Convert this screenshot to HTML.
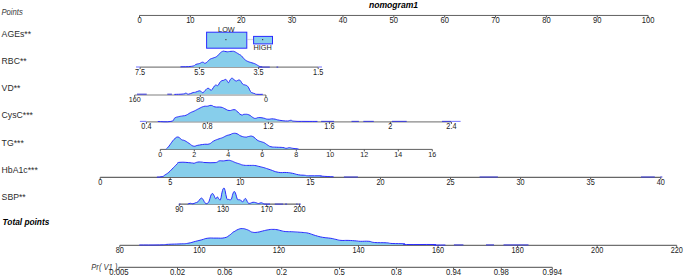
<!DOCTYPE html>
<html><head><meta charset="utf-8"><style>
html,body{margin:0;padding:0;background:#fff;}
svg{display:block;font-family:"Liberation Sans",sans-serif;}
</style></head><body>
<svg width="685" height="276" viewBox="0 0 685 276">
<rect width="685" height="276" fill="#fff"/>
<text transform="translate(1.40,15.10) scale(1.0,1.1)" font-size="7.7" text-anchor="start" font-style="italic" fill="#3a3a3a">Points</text>
<text x="393.50" y="7.70" font-size="8.6" text-anchor="middle" font-style="italic" font-weight="bold" fill="#000">nomogram1</text>
<text transform="translate(1.60,36.60) scale(1.0,1.09)" font-size="8.7" text-anchor="start" fill="#2c2c2c">AGEs**</text>
<text transform="translate(1.60,63.80) scale(1.0,1.09)" font-size="8.7" text-anchor="start" fill="#2c2c2c">RBC**</text>
<text transform="translate(1.60,90.80) scale(1.0,1.09)" font-size="8.7" text-anchor="start" fill="#2c2c2c">VD**</text>
<text transform="translate(1.60,117.90) scale(1.0,1.09)" font-size="8.7" text-anchor="start" fill="#2c2c2c">CysC***</text>
<text transform="translate(1.60,145.80) scale(1.0,1.09)" font-size="8.7" text-anchor="start" fill="#2c2c2c">TG***</text>
<text transform="translate(1.60,173.00) scale(1.0,1.09)" font-size="8.7" text-anchor="start" fill="#2c2c2c">HbA1c***</text>
<text transform="translate(1.60,200.40) scale(1.0,1.09)" font-size="8.7" text-anchor="start" fill="#2c2c2c">SBP**</text>
<text x="2.60" y="225.20" font-size="8.3" text-anchor="start" font-style="italic" font-weight="bold" fill="#000">Total points</text>
<text transform="translate(91.30,269.60) scale(1.0,1.08)" font-size="7.6" text-anchor="start" font-style="italic" fill="#3a3a3a">Pr( V1 )</text>
<line x1="139.50" y1="15.45" x2="648.10" y2="15.45" stroke="#606060" stroke-width="1.0"/>
<line x1="139.50" y1="15.45" x2="139.50" y2="17.45" stroke="#555" stroke-width="1"/>
<text transform="translate(139.50,22.50) scale(1.0,1.08)" font-size="7.6" text-anchor="middle" fill="#222">0</text>
<line x1="190.36" y1="15.45" x2="190.36" y2="17.45" stroke="#555" stroke-width="1"/>
<text transform="translate(190.36,22.50) scale(1.0,1.08)" font-size="7.6" text-anchor="middle" fill="#222">10</text>
<line x1="241.22" y1="15.45" x2="241.22" y2="17.45" stroke="#555" stroke-width="1"/>
<text transform="translate(241.22,22.50) scale(1.0,1.08)" font-size="7.6" text-anchor="middle" fill="#222">20</text>
<line x1="292.08" y1="15.45" x2="292.08" y2="17.45" stroke="#555" stroke-width="1"/>
<text transform="translate(292.08,22.50) scale(1.0,1.08)" font-size="7.6" text-anchor="middle" fill="#222">30</text>
<line x1="342.94" y1="15.45" x2="342.94" y2="17.45" stroke="#555" stroke-width="1"/>
<text transform="translate(342.94,22.50) scale(1.0,1.08)" font-size="7.6" text-anchor="middle" fill="#222">40</text>
<line x1="393.80" y1="15.45" x2="393.80" y2="17.45" stroke="#555" stroke-width="1"/>
<text transform="translate(393.80,22.50) scale(1.0,1.08)" font-size="7.6" text-anchor="middle" fill="#222">50</text>
<line x1="444.66" y1="15.45" x2="444.66" y2="17.45" stroke="#555" stroke-width="1"/>
<text transform="translate(444.66,22.50) scale(1.0,1.08)" font-size="7.6" text-anchor="middle" fill="#222">60</text>
<line x1="495.52" y1="15.45" x2="495.52" y2="17.45" stroke="#555" stroke-width="1"/>
<text transform="translate(495.52,22.50) scale(1.0,1.08)" font-size="7.6" text-anchor="middle" fill="#222">70</text>
<line x1="546.38" y1="15.45" x2="546.38" y2="17.45" stroke="#555" stroke-width="1"/>
<text transform="translate(546.38,22.50) scale(1.0,1.08)" font-size="7.6" text-anchor="middle" fill="#222">80</text>
<line x1="597.24" y1="15.45" x2="597.24" y2="17.45" stroke="#555" stroke-width="1"/>
<text transform="translate(597.24,22.50) scale(1.0,1.08)" font-size="7.6" text-anchor="middle" fill="#222">90</text>
<line x1="648.10" y1="15.45" x2="648.10" y2="17.45" stroke="#555" stroke-width="1"/>
<text transform="translate(648.10,22.50) scale(1.0,1.08)" font-size="7.6" text-anchor="middle" fill="#222">100</text>
<line x1="247.5" y1="39.5" x2="253.5" y2="39.5" stroke="#d8d8d8" stroke-width="1.2"/>
<rect x="206.6" y="32.2" width="40.2" height="16.0" fill="#87CEEB" stroke="#2a2aff" stroke-width="1"/>
<rect x="253.6" y="36.4" width="18.9" height="7.5" fill="#87CEEB" stroke="#2a2aff" stroke-width="1"/>
<rect x="225.3" y="39" width="1.2" height="1.2" fill="#444"/>
<rect x="262" y="39" width="1.2" height="1.2" fill="#444"/>
<text x="226.40" y="31.50" font-size="7.3" text-anchor="middle" fill="#222">LOW</text>
<text x="262.60" y="50.20" font-size="7.3" text-anchor="middle" fill="#222">HIGH</text>
<line x1="140.10" y1="67.10" x2="318.20" y2="67.10" stroke="#808080" stroke-width="1.4"/>
<line x1="140.10" y1="67.10" x2="140.10" y2="69.10" stroke="#555" stroke-width="1"/>
<text transform="translate(140.10,75.00) scale(1.0,1.12)" font-size="7.3" text-anchor="middle" fill="#222">7.5</text>
<line x1="199.40" y1="67.10" x2="199.40" y2="69.10" stroke="#555" stroke-width="1"/>
<text transform="translate(199.40,75.00) scale(1.0,1.12)" font-size="7.3" text-anchor="middle" fill="#222">5.5</text>
<line x1="258.60" y1="67.10" x2="258.60" y2="69.10" stroke="#555" stroke-width="1"/>
<text transform="translate(258.60,75.00) scale(1.0,1.12)" font-size="7.3" text-anchor="middle" fill="#222">3.5</text>
<line x1="318.20" y1="67.10" x2="318.20" y2="69.10" stroke="#555" stroke-width="1"/>
<text transform="translate(318.20,75.00) scale(1.0,1.12)" font-size="7.3" text-anchor="middle" fill="#222">1.5</text>
<path d="M180.70,67.10 L180.70,66.80 C183.61,66.67 187.52,66.94 191.60,66.30 C195.68,65.66 193.89,65.15 196.00,64.40 C198.11,63.65 197.74,64.09 199.50,63.50 C201.26,62.91 200.97,62.31 202.60,62.20 C204.23,62.09 203.71,63.82 205.60,63.10 C207.49,62.38 207.67,60.86 209.70,59.50 C211.73,58.14 211.33,58.80 213.20,58.00 C215.07,57.20 214.99,57.67 216.70,56.50 C218.41,55.33 218.05,54.96 219.60,53.60 C221.15,52.24 221.09,51.99 222.50,51.40 C223.91,50.81 223.65,51.29 224.90,51.40 C226.15,51.51 225.97,51.77 227.20,51.80 C228.43,51.83 228.11,51.63 229.50,51.50 C230.89,51.37 231.15,51.30 232.40,51.30 C233.65,51.30 233.11,51.13 234.20,51.50 C235.29,51.87 235.25,51.98 236.50,52.70 C237.75,53.42 237.65,53.43 238.90,54.20 C240.15,54.97 239.97,54.51 241.20,55.60 C242.43,56.69 242.62,57.31 243.50,58.30 C244.38,59.29 243.43,58.50 244.50,59.30 C245.57,60.10 245.53,60.37 247.50,61.30 C249.47,62.23 249.79,62.08 251.90,62.80 C254.01,63.52 253.43,63.07 255.40,64.00 C257.37,64.93 257.54,65.55 259.30,66.30 C261.06,67.05 261.28,66.67 262.00,66.80 L262.00,67.10 Z" fill="#87CEEB" stroke="none"/>
<path d="M180.70,67.10 L180.70,66.80 C183.61,66.67 187.52,66.94 191.60,66.30 C195.68,65.66 193.89,65.15 196.00,64.40 C198.11,63.65 197.74,64.09 199.50,63.50 C201.26,62.91 200.97,62.31 202.60,62.20 C204.23,62.09 203.71,63.82 205.60,63.10 C207.49,62.38 207.67,60.86 209.70,59.50 C211.73,58.14 211.33,58.80 213.20,58.00 C215.07,57.20 214.99,57.67 216.70,56.50 C218.41,55.33 218.05,54.96 219.60,53.60 C221.15,52.24 221.09,51.99 222.50,51.40 C223.91,50.81 223.65,51.29 224.90,51.40 C226.15,51.51 225.97,51.77 227.20,51.80 C228.43,51.83 228.11,51.63 229.50,51.50 C230.89,51.37 231.15,51.30 232.40,51.30 C233.65,51.30 233.11,51.13 234.20,51.50 C235.29,51.87 235.25,51.98 236.50,52.70 C237.75,53.42 237.65,53.43 238.90,54.20 C240.15,54.97 239.97,54.51 241.20,55.60 C242.43,56.69 242.62,57.31 243.50,58.30 C244.38,59.29 243.43,58.50 244.50,59.30 C245.57,60.10 245.53,60.37 247.50,61.30 C249.47,62.23 249.79,62.08 251.90,62.80 C254.01,63.52 253.43,63.07 255.40,64.00 C257.37,64.93 257.54,65.55 259.30,66.30 C261.06,67.05 261.28,66.67 262.00,66.80 L262.00,67.10" fill="none" stroke="#2a2aff" stroke-width="1" stroke-linejoin="round"/>
<line x1="259.00" y1="67.10" x2="269.80" y2="67.10" stroke="#4040d8" stroke-width="1.1"/>
<line x1="276.50" y1="67.10" x2="278.20" y2="67.10" stroke="#4040d8" stroke-width="1.1"/>
<line x1="136.00" y1="67.00" x2="140.10" y2="67.00" stroke="#7f7fff" stroke-width="1.1"/>
<line x1="318.20" y1="67.00" x2="322.00" y2="67.00" stroke="#7f7fff" stroke-width="1.1"/>
<line x1="134.70" y1="95.00" x2="265.90" y2="95.00" stroke="#808080" stroke-width="1.2"/>
<line x1="134.70" y1="95.00" x2="134.70" y2="97.00" stroke="#555" stroke-width="1"/>
<text transform="translate(134.70,102.00) scale(1.0,1.12)" font-size="7.2" text-anchor="middle" fill="#222">160</text>
<line x1="200.30" y1="95.00" x2="200.30" y2="97.00" stroke="#555" stroke-width="1"/>
<text transform="translate(200.30,102.00) scale(1.0,1.12)" font-size="7.2" text-anchor="middle" fill="#222">80</text>
<line x1="265.90" y1="95.00" x2="265.90" y2="97.00" stroke="#555" stroke-width="1"/>
<text transform="translate(265.90,102.00) scale(1.0,1.12)" font-size="7.2" text-anchor="middle" fill="#222">0</text>
<line x1="137.00" y1="94.20" x2="146.70" y2="94.20" stroke="#4040d8" stroke-width="1.1"/>
<line x1="167.30" y1="94.20" x2="171.90" y2="94.20" stroke="#4040d8" stroke-width="1.1"/>
<path d="M174.40,94.30 L174.40,94.40 C176.77,94.29 180.23,94.35 183.30,94.00 C186.37,93.65 184.51,93.05 185.90,93.10 C187.29,93.15 186.63,94.33 188.50,94.20 C190.37,94.07 191.03,93.13 192.90,92.60 C194.77,92.07 193.87,92.65 195.50,92.20 C197.13,91.75 197.59,91.14 199.00,90.90 C200.41,90.66 199.73,90.85 200.80,91.30 C201.87,91.75 201.83,92.84 203.00,92.60 C204.17,92.36 203.84,91.55 205.20,90.40 C206.56,89.25 206.63,88.41 208.10,88.30 C209.57,88.19 209.66,89.65 210.70,90.00 C211.74,90.35 210.96,90.72 212.00,89.60 C213.04,88.48 213.43,86.97 214.60,85.80 C215.77,84.63 215.47,85.31 216.40,85.20 C217.33,85.09 217.17,86.17 218.10,85.40 C219.03,84.63 218.83,83.58 219.90,82.30 C220.97,81.02 221.06,81.13 222.10,80.60 C223.14,80.07 222.87,80.62 223.80,80.30 C224.73,79.98 224.77,79.32 225.60,79.40 C226.43,79.48 226.13,79.75 226.90,80.60 C227.67,81.45 227.67,82.73 228.50,82.60 C229.33,82.47 229.15,81.27 230.00,80.10 C230.85,78.93 230.90,78.55 231.70,78.20 C232.50,77.85 232.17,78.24 233.00,78.80 C233.83,79.36 233.87,79.71 234.80,80.30 C235.73,80.89 235.70,81.00 236.50,81.00 C237.30,81.00 236.97,80.54 237.80,80.30 C238.63,80.06 238.77,79.81 239.60,80.10 C240.43,80.39 240.07,80.33 240.90,81.40 C241.73,82.47 241.66,83.17 242.70,84.10 C243.74,85.03 243.65,84.45 244.80,84.90 C245.95,85.35 245.93,84.97 247.00,85.80 C248.07,86.63 247.87,86.48 248.80,88.00 C249.73,89.52 249.57,90.22 250.50,91.50 C251.43,92.78 251.13,92.21 252.30,92.80 C253.47,93.39 253.73,93.30 254.90,93.70 C256.07,94.10 254.59,94.14 256.70,94.30 C258.81,94.46 261.17,94.30 262.80,94.30 L262.80,94.30 Z" fill="#87CEEB" stroke="none"/>
<path d="M174.40,94.30 L174.40,94.40 C176.77,94.29 180.23,94.35 183.30,94.00 C186.37,93.65 184.51,93.05 185.90,93.10 C187.29,93.15 186.63,94.33 188.50,94.20 C190.37,94.07 191.03,93.13 192.90,92.60 C194.77,92.07 193.87,92.65 195.50,92.20 C197.13,91.75 197.59,91.14 199.00,90.90 C200.41,90.66 199.73,90.85 200.80,91.30 C201.87,91.75 201.83,92.84 203.00,92.60 C204.17,92.36 203.84,91.55 205.20,90.40 C206.56,89.25 206.63,88.41 208.10,88.30 C209.57,88.19 209.66,89.65 210.70,90.00 C211.74,90.35 210.96,90.72 212.00,89.60 C213.04,88.48 213.43,86.97 214.60,85.80 C215.77,84.63 215.47,85.31 216.40,85.20 C217.33,85.09 217.17,86.17 218.10,85.40 C219.03,84.63 218.83,83.58 219.90,82.30 C220.97,81.02 221.06,81.13 222.10,80.60 C223.14,80.07 222.87,80.62 223.80,80.30 C224.73,79.98 224.77,79.32 225.60,79.40 C226.43,79.48 226.13,79.75 226.90,80.60 C227.67,81.45 227.67,82.73 228.50,82.60 C229.33,82.47 229.15,81.27 230.00,80.10 C230.85,78.93 230.90,78.55 231.70,78.20 C232.50,77.85 232.17,78.24 233.00,78.80 C233.83,79.36 233.87,79.71 234.80,80.30 C235.73,80.89 235.70,81.00 236.50,81.00 C237.30,81.00 236.97,80.54 237.80,80.30 C238.63,80.06 238.77,79.81 239.60,80.10 C240.43,80.39 240.07,80.33 240.90,81.40 C241.73,82.47 241.66,83.17 242.70,84.10 C243.74,85.03 243.65,84.45 244.80,84.90 C245.95,85.35 245.93,84.97 247.00,85.80 C248.07,86.63 247.87,86.48 248.80,88.00 C249.73,89.52 249.57,90.22 250.50,91.50 C251.43,92.78 251.13,92.21 252.30,92.80 C253.47,93.39 253.73,93.30 254.90,93.70 C256.07,94.10 254.59,94.14 256.70,94.30 C258.81,94.46 261.17,94.30 262.80,94.30 L262.80,94.30" fill="none" stroke="#2a2aff" stroke-width="1" stroke-linejoin="round"/>
<line x1="146.40" y1="121.90" x2="451.30" y2="121.90" stroke="#888" stroke-width="1.3"/>
<line x1="146.40" y1="121.90" x2="146.40" y2="123.90" stroke="#555" stroke-width="1"/>
<text transform="translate(146.40,129.30) scale(1.0,1.12)" font-size="7.3" text-anchor="middle" fill="#222">0.4</text>
<line x1="207.40" y1="121.90" x2="207.40" y2="123.90" stroke="#555" stroke-width="1"/>
<text transform="translate(207.40,129.30) scale(1.0,1.12)" font-size="7.3" text-anchor="middle" fill="#222">0.8</text>
<line x1="268.40" y1="121.90" x2="268.40" y2="123.90" stroke="#555" stroke-width="1"/>
<text transform="translate(268.40,129.30) scale(1.0,1.12)" font-size="7.3" text-anchor="middle" fill="#222">1.2</text>
<line x1="329.40" y1="121.90" x2="329.40" y2="123.90" stroke="#555" stroke-width="1"/>
<text transform="translate(329.40,129.30) scale(1.0,1.12)" font-size="7.3" text-anchor="middle" fill="#222">1.6</text>
<line x1="390.40" y1="121.90" x2="390.40" y2="123.90" stroke="#555" stroke-width="1"/>
<text transform="translate(390.40,129.30) scale(1.0,1.12)" font-size="7.3" text-anchor="middle" fill="#222">2</text>
<line x1="451.40" y1="121.90" x2="451.40" y2="123.90" stroke="#555" stroke-width="1"/>
<text transform="translate(451.40,129.30) scale(1.0,1.12)" font-size="7.3" text-anchor="middle" fill="#222">2.4</text>
<line x1="139.90" y1="121.40" x2="146.40" y2="121.40" stroke="#7f7fff" stroke-width="1.1"/>
<path d="M157.80,121.50 L157.80,121.50 C161.29,121.47 166.39,122.31 170.90,121.40 C175.41,120.49 172.67,119.35 174.70,118.10 C176.73,116.85 176.34,117.29 178.50,116.70 C180.66,116.11 180.77,116.30 182.80,115.90 C184.83,115.50 184.07,116.05 186.10,115.20 C188.13,114.35 188.21,113.82 190.40,112.70 C192.59,111.58 192.09,112.07 194.30,111.00 C196.51,109.93 196.22,109.90 198.70,108.70 C201.18,107.50 201.28,107.17 203.60,106.50 C205.92,105.83 205.37,106.49 207.40,106.20 C209.43,105.91 209.17,105.21 211.20,105.40 C213.23,105.59 212.39,106.42 215.00,106.90 C217.61,107.38 218.39,106.72 221.00,107.20 C223.61,107.68 222.64,107.82 224.80,108.70 C226.96,109.58 226.65,110.23 229.10,110.50 C231.55,110.77 231.97,109.57 234.00,109.70 C236.03,109.83 234.81,109.64 236.70,111.00 C238.59,112.36 239.07,113.92 241.10,114.80 C243.13,115.68 242.25,114.30 244.30,114.30 C246.35,114.30 246.59,114.00 248.80,114.80 C251.01,115.60 250.87,116.34 252.60,117.30 C254.33,118.26 253.70,118.32 255.30,118.40 C256.90,118.48 256.41,117.68 258.60,117.60 C260.79,117.52 261.05,117.67 263.50,118.10 C265.95,118.53 265.19,118.99 267.80,119.20 C270.41,119.41 270.10,118.61 273.30,118.90 C276.50,119.19 276.04,119.74 279.80,120.30 C283.56,120.86 284.49,121.00 287.40,121.00 C290.31,121.00 288.81,120.25 290.70,120.30 C292.59,120.35 290.69,120.91 294.50,121.20 C298.31,121.49 298.89,121.35 305.00,121.40 C311.11,121.45 314.09,121.40 317.40,121.40 L317.40,121.50 Z" fill="#87CEEB" stroke="none"/>
<path d="M157.80,121.50 L157.80,121.50 C161.29,121.47 166.39,122.31 170.90,121.40 C175.41,120.49 172.67,119.35 174.70,118.10 C176.73,116.85 176.34,117.29 178.50,116.70 C180.66,116.11 180.77,116.30 182.80,115.90 C184.83,115.50 184.07,116.05 186.10,115.20 C188.13,114.35 188.21,113.82 190.40,112.70 C192.59,111.58 192.09,112.07 194.30,111.00 C196.51,109.93 196.22,109.90 198.70,108.70 C201.18,107.50 201.28,107.17 203.60,106.50 C205.92,105.83 205.37,106.49 207.40,106.20 C209.43,105.91 209.17,105.21 211.20,105.40 C213.23,105.59 212.39,106.42 215.00,106.90 C217.61,107.38 218.39,106.72 221.00,107.20 C223.61,107.68 222.64,107.82 224.80,108.70 C226.96,109.58 226.65,110.23 229.10,110.50 C231.55,110.77 231.97,109.57 234.00,109.70 C236.03,109.83 234.81,109.64 236.70,111.00 C238.59,112.36 239.07,113.92 241.10,114.80 C243.13,115.68 242.25,114.30 244.30,114.30 C246.35,114.30 246.59,114.00 248.80,114.80 C251.01,115.60 250.87,116.34 252.60,117.30 C254.33,118.26 253.70,118.32 255.30,118.40 C256.90,118.48 256.41,117.68 258.60,117.60 C260.79,117.52 261.05,117.67 263.50,118.10 C265.95,118.53 265.19,118.99 267.80,119.20 C270.41,119.41 270.10,118.61 273.30,118.90 C276.50,119.19 276.04,119.74 279.80,120.30 C283.56,120.86 284.49,121.00 287.40,121.00 C290.31,121.00 288.81,120.25 290.70,120.30 C292.59,120.35 290.69,120.91 294.50,121.20 C298.31,121.49 298.89,121.35 305.00,121.40 C311.11,121.45 314.09,121.40 317.40,121.40 L317.40,121.50" fill="none" stroke="#2a2aff" stroke-width="1" stroke-linejoin="round"/>
<line x1="321.10" y1="121.40" x2="334.10" y2="121.40" stroke="#4040d8" stroke-width="1.1"/>
<line x1="351.50" y1="121.40" x2="358.90" y2="121.40" stroke="#4040d8" stroke-width="1.1"/>
<line x1="363.30" y1="121.40" x2="373.80" y2="121.40" stroke="#4040d8" stroke-width="1.1"/>
<line x1="391.80" y1="121.40" x2="406.70" y2="121.40" stroke="#4040d8" stroke-width="1.1"/>
<line x1="442.00" y1="121.40" x2="451.30" y2="121.40" stroke="#4040d8" stroke-width="1.1"/>
<line x1="451.30" y1="121.40" x2="460.60" y2="121.40" stroke="#7f7fff" stroke-width="1.1"/>
<line x1="160.30" y1="149.40" x2="432.30" y2="149.40" stroke="#606060" stroke-width="1.0"/>
<line x1="160.30" y1="149.40" x2="160.30" y2="151.40" stroke="#555" stroke-width="1"/>
<text transform="translate(160.30,156.70) scale(1.0,1.12)" font-size="7.1" text-anchor="middle" fill="#222">0</text>
<line x1="194.30" y1="149.40" x2="194.30" y2="151.40" stroke="#555" stroke-width="1"/>
<text transform="translate(194.30,156.70) scale(1.0,1.12)" font-size="7.1" text-anchor="middle" fill="#222">2</text>
<line x1="228.30" y1="149.40" x2="228.30" y2="151.40" stroke="#555" stroke-width="1"/>
<text transform="translate(228.30,156.70) scale(1.0,1.12)" font-size="7.1" text-anchor="middle" fill="#222">4</text>
<line x1="262.30" y1="149.40" x2="262.30" y2="151.40" stroke="#555" stroke-width="1"/>
<text transform="translate(262.30,156.70) scale(1.0,1.12)" font-size="7.1" text-anchor="middle" fill="#222">6</text>
<line x1="296.30" y1="149.40" x2="296.30" y2="151.40" stroke="#555" stroke-width="1"/>
<text transform="translate(296.30,156.70) scale(1.0,1.12)" font-size="7.1" text-anchor="middle" fill="#222">8</text>
<line x1="330.30" y1="149.40" x2="330.30" y2="151.40" stroke="#555" stroke-width="1"/>
<text transform="translate(330.30,156.70) scale(1.0,1.12)" font-size="7.1" text-anchor="middle" fill="#222">10</text>
<line x1="364.30" y1="149.40" x2="364.30" y2="151.40" stroke="#555" stroke-width="1"/>
<text transform="translate(364.30,156.70) scale(1.0,1.12)" font-size="7.1" text-anchor="middle" fill="#222">12</text>
<line x1="398.30" y1="149.40" x2="398.30" y2="151.40" stroke="#555" stroke-width="1"/>
<text transform="translate(398.30,156.70) scale(1.0,1.12)" font-size="7.1" text-anchor="middle" fill="#222">14</text>
<line x1="432.30" y1="149.40" x2="432.30" y2="151.40" stroke="#555" stroke-width="1"/>
<text transform="translate(432.30,156.70) scale(1.0,1.12)" font-size="7.1" text-anchor="middle" fill="#222">16</text>
<path d="M166.10,149.20 L166.10,149.20 C166.87,148.37 167.51,147.94 169.00,146.10 C170.49,144.26 170.10,144.33 171.70,142.30 C173.30,140.27 173.24,139.89 175.00,138.50 C176.76,137.11 176.57,136.81 178.30,137.10 C180.03,137.39 179.77,138.64 181.50,139.60 C183.23,140.56 182.77,139.69 184.80,140.70 C186.83,141.71 186.78,141.96 189.10,143.40 C191.42,144.84 191.18,145.59 193.50,146.10 C195.82,146.61 194.92,145.78 197.80,145.30 C200.68,144.82 201.23,144.67 204.30,144.30 C207.37,143.93 206.79,144.78 209.30,143.90 C211.81,143.02 211.09,142.36 213.70,141.00 C216.31,139.64 216.78,139.68 219.10,138.80 C221.42,137.92 220.37,138.55 222.40,137.70 C224.43,136.85 224.67,136.40 226.70,135.60 C228.73,134.80 228.24,135.29 230.00,134.70 C231.76,134.11 231.41,133.64 233.30,133.40 C235.19,133.16 235.07,133.11 237.10,133.80 C239.13,134.49 238.58,135.12 240.90,136.00 C243.22,136.88 243.77,136.97 245.80,137.10 C247.83,137.23 246.63,136.66 248.50,136.50 C250.37,136.34 250.48,135.54 252.80,136.50 C255.12,137.46 254.88,138.69 257.20,140.10 C259.52,141.51 259.61,141.08 261.50,141.80 C263.39,142.52 262.67,141.95 264.30,142.80 C265.93,143.65 265.84,143.96 267.60,145.00 C269.36,146.04 268.58,146.11 270.90,146.70 C273.22,147.29 273.13,146.99 276.30,147.20 C279.47,147.41 280.19,147.21 282.80,147.50 C285.41,147.79 284.37,148.25 286.10,148.30 C287.83,148.35 287.57,147.70 289.30,147.70 C291.03,147.70 290.55,148.01 292.60,148.30 C294.65,148.59 295.40,148.59 297.00,148.80 C298.60,149.01 298.17,149.02 298.60,149.10 L298.60,149.20 Z" fill="#87CEEB" stroke="none"/>
<path d="M166.10,149.20 L166.10,149.20 C166.87,148.37 167.51,147.94 169.00,146.10 C170.49,144.26 170.10,144.33 171.70,142.30 C173.30,140.27 173.24,139.89 175.00,138.50 C176.76,137.11 176.57,136.81 178.30,137.10 C180.03,137.39 179.77,138.64 181.50,139.60 C183.23,140.56 182.77,139.69 184.80,140.70 C186.83,141.71 186.78,141.96 189.10,143.40 C191.42,144.84 191.18,145.59 193.50,146.10 C195.82,146.61 194.92,145.78 197.80,145.30 C200.68,144.82 201.23,144.67 204.30,144.30 C207.37,143.93 206.79,144.78 209.30,143.90 C211.81,143.02 211.09,142.36 213.70,141.00 C216.31,139.64 216.78,139.68 219.10,138.80 C221.42,137.92 220.37,138.55 222.40,137.70 C224.43,136.85 224.67,136.40 226.70,135.60 C228.73,134.80 228.24,135.29 230.00,134.70 C231.76,134.11 231.41,133.64 233.30,133.40 C235.19,133.16 235.07,133.11 237.10,133.80 C239.13,134.49 238.58,135.12 240.90,136.00 C243.22,136.88 243.77,136.97 245.80,137.10 C247.83,137.23 246.63,136.66 248.50,136.50 C250.37,136.34 250.48,135.54 252.80,136.50 C255.12,137.46 254.88,138.69 257.20,140.10 C259.52,141.51 259.61,141.08 261.50,141.80 C263.39,142.52 262.67,141.95 264.30,142.80 C265.93,143.65 265.84,143.96 267.60,145.00 C269.36,146.04 268.58,146.11 270.90,146.70 C273.22,147.29 273.13,146.99 276.30,147.20 C279.47,147.41 280.19,147.21 282.80,147.50 C285.41,147.79 284.37,148.25 286.10,148.30 C287.83,148.35 287.57,147.70 289.30,147.70 C291.03,147.70 290.55,148.01 292.60,148.30 C294.65,148.59 295.40,148.59 297.00,148.80 C298.60,149.01 298.17,149.02 298.60,149.10 L298.60,149.20" fill="none" stroke="#2a2aff" stroke-width="1" stroke-linejoin="round"/>
<line x1="100.20" y1="177.40" x2="660.72" y2="177.40" stroke="#666" stroke-width="1.1"/>
<line x1="100.20" y1="177.40" x2="100.20" y2="179.40" stroke="#555" stroke-width="1"/>
<text transform="translate(100.20,184.50) scale(1.0,1.12)" font-size="7.3" text-anchor="middle" fill="#222">0</text>
<line x1="170.26" y1="177.40" x2="170.26" y2="179.40" stroke="#555" stroke-width="1"/>
<text transform="translate(170.26,184.50) scale(1.0,1.12)" font-size="7.3" text-anchor="middle" fill="#222">5</text>
<line x1="240.33" y1="177.40" x2="240.33" y2="179.40" stroke="#555" stroke-width="1"/>
<text transform="translate(240.33,184.50) scale(1.0,1.12)" font-size="7.3" text-anchor="middle" fill="#222">10</text>
<line x1="310.39" y1="177.40" x2="310.39" y2="179.40" stroke="#555" stroke-width="1"/>
<text transform="translate(310.39,184.50) scale(1.0,1.12)" font-size="7.3" text-anchor="middle" fill="#222">15</text>
<line x1="380.46" y1="177.40" x2="380.46" y2="179.40" stroke="#555" stroke-width="1"/>
<text transform="translate(380.46,184.50) scale(1.0,1.12)" font-size="7.3" text-anchor="middle" fill="#222">20</text>
<line x1="450.52" y1="177.40" x2="450.52" y2="179.40" stroke="#555" stroke-width="1"/>
<text transform="translate(450.52,184.50) scale(1.0,1.12)" font-size="7.3" text-anchor="middle" fill="#222">25</text>
<line x1="520.59" y1="177.40" x2="520.59" y2="179.40" stroke="#555" stroke-width="1"/>
<text transform="translate(520.59,184.50) scale(1.0,1.12)" font-size="7.3" text-anchor="middle" fill="#222">30</text>
<line x1="590.65" y1="177.40" x2="590.65" y2="179.40" stroke="#555" stroke-width="1"/>
<text transform="translate(590.65,184.50) scale(1.0,1.12)" font-size="7.3" text-anchor="middle" fill="#222">35</text>
<line x1="660.72" y1="177.40" x2="660.72" y2="179.40" stroke="#555" stroke-width="1"/>
<text transform="translate(660.72,184.50) scale(1.0,1.12)" font-size="7.3" text-anchor="middle" fill="#222">40</text>
<path d="M156.90,177.10 L156.90,177.10 C158.31,176.97 159.99,177.21 162.20,176.60 C164.41,175.99 163.44,175.95 165.20,174.80 C166.96,173.65 166.61,174.19 168.80,172.30 C170.99,170.41 171.24,169.86 173.40,167.70 C175.56,165.54 175.14,165.64 176.90,164.20 C178.66,162.76 176.08,162.65 180.00,162.30 C183.92,161.95 187.95,162.63 191.60,162.90 C195.25,163.17 192.07,163.51 193.70,163.30 C195.33,163.09 195.54,162.42 197.70,162.10 C199.86,161.78 199.85,161.99 201.80,162.10 C203.75,162.21 201.43,162.37 205.00,162.50 C208.57,162.63 211.41,163.03 215.20,162.60 C218.99,162.17 217.04,161.35 219.20,160.90 C221.36,160.45 220.85,161.06 223.30,160.90 C225.75,160.74 226.24,160.30 228.40,160.30 C230.56,160.30 229.51,160.29 231.40,160.90 C233.29,161.51 233.34,161.80 235.50,162.60 C237.66,163.40 237.34,163.21 239.50,163.90 C241.66,164.59 240.88,164.80 243.60,165.20 C246.32,165.60 246.74,165.32 249.70,165.40 C252.66,165.48 252.27,165.23 254.70,165.50 C257.13,165.77 256.61,165.89 258.80,166.40 C260.99,166.91 261.49,167.05 262.90,167.40 C264.31,167.75 262.15,167.09 264.10,167.70 C266.05,168.31 266.41,168.47 270.20,169.70 C273.99,170.93 273.98,171.55 278.30,172.30 C282.62,173.05 282.61,172.23 286.40,172.50 C290.19,172.77 289.25,172.69 292.50,173.30 C295.75,173.91 295.35,174.27 298.60,174.80 C301.85,175.33 302.01,175.03 304.70,175.30 C307.39,175.57 304.62,175.67 308.70,175.80 C312.78,175.93 316.45,175.69 320.00,175.80 C323.55,175.91 318.43,175.93 322.00,176.20 C325.57,176.47 330.36,176.64 333.40,176.80 L333.40,177.10 Z" fill="#87CEEB" stroke="none"/>
<path d="M156.90,177.10 L156.90,177.10 C158.31,176.97 159.99,177.21 162.20,176.60 C164.41,175.99 163.44,175.95 165.20,174.80 C166.96,173.65 166.61,174.19 168.80,172.30 C170.99,170.41 171.24,169.86 173.40,167.70 C175.56,165.54 175.14,165.64 176.90,164.20 C178.66,162.76 176.08,162.65 180.00,162.30 C183.92,161.95 187.95,162.63 191.60,162.90 C195.25,163.17 192.07,163.51 193.70,163.30 C195.33,163.09 195.54,162.42 197.70,162.10 C199.86,161.78 199.85,161.99 201.80,162.10 C203.75,162.21 201.43,162.37 205.00,162.50 C208.57,162.63 211.41,163.03 215.20,162.60 C218.99,162.17 217.04,161.35 219.20,160.90 C221.36,160.45 220.85,161.06 223.30,160.90 C225.75,160.74 226.24,160.30 228.40,160.30 C230.56,160.30 229.51,160.29 231.40,160.90 C233.29,161.51 233.34,161.80 235.50,162.60 C237.66,163.40 237.34,163.21 239.50,163.90 C241.66,164.59 240.88,164.80 243.60,165.20 C246.32,165.60 246.74,165.32 249.70,165.40 C252.66,165.48 252.27,165.23 254.70,165.50 C257.13,165.77 256.61,165.89 258.80,166.40 C260.99,166.91 261.49,167.05 262.90,167.40 C264.31,167.75 262.15,167.09 264.10,167.70 C266.05,168.31 266.41,168.47 270.20,169.70 C273.99,170.93 273.98,171.55 278.30,172.30 C282.62,173.05 282.61,172.23 286.40,172.50 C290.19,172.77 289.25,172.69 292.50,173.30 C295.75,173.91 295.35,174.27 298.60,174.80 C301.85,175.33 302.01,175.03 304.70,175.30 C307.39,175.57 304.62,175.67 308.70,175.80 C312.78,175.93 316.45,175.69 320.00,175.80 C323.55,175.91 318.43,175.93 322.00,176.20 C325.57,176.47 330.36,176.64 333.40,176.80 L333.40,177.10" fill="none" stroke="#2a2aff" stroke-width="1" stroke-linejoin="round"/>
<line x1="343.90" y1="177.00" x2="357.90" y2="177.00" stroke="#4040d8" stroke-width="1.1"/>
<line x1="479.60" y1="177.00" x2="497.90" y2="177.00" stroke="#4040d8" stroke-width="1.1"/>
<line x1="641.00" y1="177.00" x2="654.80" y2="177.00" stroke="#4040d8" stroke-width="1.1"/>
<line x1="660.30" y1="177.00" x2="662.30" y2="177.00" stroke="#4040d8" stroke-width="1.1"/>
<line x1="179.30" y1="204.10" x2="299.53" y2="204.10" stroke="#666" stroke-width="1.1"/>
<line x1="179.30" y1="204.10" x2="179.30" y2="206.10" stroke="#555" stroke-width="1"/>
<text transform="translate(179.30,212.00) scale(1.0,1.12)" font-size="7.3" text-anchor="middle" fill="#222">90</text>
<line x1="223.02" y1="204.10" x2="223.02" y2="206.10" stroke="#555" stroke-width="1"/>
<text transform="translate(223.02,212.00) scale(1.0,1.12)" font-size="7.3" text-anchor="middle" fill="#222">130</text>
<line x1="266.74" y1="204.10" x2="266.74" y2="206.10" stroke="#555" stroke-width="1"/>
<text transform="translate(266.74,212.00) scale(1.0,1.12)" font-size="7.3" text-anchor="middle" fill="#222">170</text>
<line x1="299.53" y1="204.10" x2="299.53" y2="206.10" stroke="#555" stroke-width="1"/>
<text transform="translate(299.53,212.00) scale(1.0,1.12)" font-size="7.3" text-anchor="middle" fill="#222">200</text>
<path d="M187.80,204.20 L187.80,204.10 C188.47,203.89 188.97,203.38 190.30,203.30 C191.63,203.22 191.44,203.93 192.80,203.80 C194.16,203.67 194.04,203.33 195.40,202.80 C196.76,202.27 196.57,202.89 197.90,201.80 C199.23,200.71 199.31,199.61 200.40,198.70 C201.49,197.79 201.17,198.00 202.00,198.40 C202.83,198.80 202.70,199.03 203.50,200.20 C204.30,201.37 204.07,201.92 205.00,202.80 C205.93,203.68 205.91,203.93 207.00,203.50 C208.09,203.07 208.14,203.15 209.10,201.20 C210.06,199.25 209.72,198.23 210.60,196.20 C211.48,194.17 211.47,193.73 212.40,193.60 C213.33,193.47 213.22,194.34 214.10,195.70 C214.98,197.06 214.82,198.35 215.70,198.70 C216.58,199.05 216.49,196.87 217.40,197.00 C218.31,197.13 218.25,198.61 219.10,199.20 C219.95,199.79 219.80,201.09 220.60,199.20 C221.40,197.31 221.30,195.01 222.10,192.10 C222.90,189.19 222.80,188.70 223.60,188.30 C224.40,187.90 224.27,187.96 225.10,190.60 C225.93,193.24 225.74,195.85 226.70,198.20 C227.66,200.55 227.50,199.13 228.70,199.40 C229.90,199.67 230.11,200.61 231.20,199.20 C232.29,197.79 231.97,196.13 232.80,194.10 C233.63,192.07 233.50,191.60 234.30,191.60 C235.10,191.60 235.00,192.07 235.80,194.10 C236.60,196.13 236.37,197.71 237.30,199.20 C238.23,200.69 238.21,199.30 239.30,199.70 C240.39,200.10 240.44,200.14 241.40,200.70 C242.36,201.26 241.97,202.33 242.90,201.80 C243.83,201.27 243.97,199.26 244.90,198.70 C245.83,198.14 245.57,198.61 246.40,199.70 C247.23,200.79 247.04,201.84 248.00,202.80 C248.96,203.76 248.67,203.43 250.00,203.30 C251.33,203.17 251.37,202.43 253.00,202.30 C254.63,202.17 254.61,202.48 256.10,202.80 C257.59,203.12 257.24,203.50 258.60,203.50 C259.96,203.50 259.84,202.72 261.20,202.80 C262.56,202.88 262.69,203.45 263.70,203.80 C264.71,204.15 263.32,204.02 265.00,204.10 C266.68,204.18 268.67,204.10 270.00,204.10 L270.00,204.20 Z" fill="#87CEEB" stroke="none"/>
<path d="M187.80,204.20 L187.80,204.10 C188.47,203.89 188.97,203.38 190.30,203.30 C191.63,203.22 191.44,203.93 192.80,203.80 C194.16,203.67 194.04,203.33 195.40,202.80 C196.76,202.27 196.57,202.89 197.90,201.80 C199.23,200.71 199.31,199.61 200.40,198.70 C201.49,197.79 201.17,198.00 202.00,198.40 C202.83,198.80 202.70,199.03 203.50,200.20 C204.30,201.37 204.07,201.92 205.00,202.80 C205.93,203.68 205.91,203.93 207.00,203.50 C208.09,203.07 208.14,203.15 209.10,201.20 C210.06,199.25 209.72,198.23 210.60,196.20 C211.48,194.17 211.47,193.73 212.40,193.60 C213.33,193.47 213.22,194.34 214.10,195.70 C214.98,197.06 214.82,198.35 215.70,198.70 C216.58,199.05 216.49,196.87 217.40,197.00 C218.31,197.13 218.25,198.61 219.10,199.20 C219.95,199.79 219.80,201.09 220.60,199.20 C221.40,197.31 221.30,195.01 222.10,192.10 C222.90,189.19 222.80,188.70 223.60,188.30 C224.40,187.90 224.27,187.96 225.10,190.60 C225.93,193.24 225.74,195.85 226.70,198.20 C227.66,200.55 227.50,199.13 228.70,199.40 C229.90,199.67 230.11,200.61 231.20,199.20 C232.29,197.79 231.97,196.13 232.80,194.10 C233.63,192.07 233.50,191.60 234.30,191.60 C235.10,191.60 235.00,192.07 235.80,194.10 C236.60,196.13 236.37,197.71 237.30,199.20 C238.23,200.69 238.21,199.30 239.30,199.70 C240.39,200.10 240.44,200.14 241.40,200.70 C242.36,201.26 241.97,202.33 242.90,201.80 C243.83,201.27 243.97,199.26 244.90,198.70 C245.83,198.14 245.57,198.61 246.40,199.70 C247.23,200.79 247.04,201.84 248.00,202.80 C248.96,203.76 248.67,203.43 250.00,203.30 C251.33,203.17 251.37,202.43 253.00,202.30 C254.63,202.17 254.61,202.48 256.10,202.80 C257.59,203.12 257.24,203.50 258.60,203.50 C259.96,203.50 259.84,202.72 261.20,202.80 C262.56,202.88 262.69,203.45 263.70,203.80 C264.71,204.15 263.32,204.02 265.00,204.10 C266.68,204.18 268.67,204.10 270.00,204.10 L270.00,204.20" fill="none" stroke="#2a2aff" stroke-width="1" stroke-linejoin="round"/>
<line x1="178.80" y1="204.10" x2="180.50" y2="204.10" stroke="#4040d8" stroke-width="1.1"/>
<line x1="274.80" y1="204.10" x2="283.10" y2="204.10" stroke="#4040d8" stroke-width="1.1"/>
<line x1="285.10" y1="204.10" x2="287.10" y2="204.10" stroke="#4040d8" stroke-width="1.1"/>
<line x1="296.30" y1="204.10" x2="297.50" y2="204.10" stroke="#4040d8" stroke-width="1.1"/>
<line x1="299.10" y1="204.10" x2="300.70" y2="204.10" stroke="#4040d8" stroke-width="1.1"/>
<line x1="119.80" y1="245.40" x2="676.72" y2="245.40" stroke="#707070" stroke-width="1.1"/>
<line x1="119.80" y1="245.40" x2="119.80" y2="247.40" stroke="#555" stroke-width="1"/>
<text transform="translate(119.80,252.70) scale(1.0,1.12)" font-size="7.3" text-anchor="middle" fill="#222">80</text>
<line x1="199.36" y1="245.40" x2="199.36" y2="247.40" stroke="#555" stroke-width="1"/>
<text transform="translate(199.36,252.70) scale(1.0,1.12)" font-size="7.3" text-anchor="middle" fill="#222">100</text>
<line x1="278.92" y1="245.40" x2="278.92" y2="247.40" stroke="#555" stroke-width="1"/>
<text transform="translate(278.92,252.70) scale(1.0,1.12)" font-size="7.3" text-anchor="middle" fill="#222">120</text>
<line x1="358.48" y1="245.40" x2="358.48" y2="247.40" stroke="#555" stroke-width="1"/>
<text transform="translate(358.48,252.70) scale(1.0,1.12)" font-size="7.3" text-anchor="middle" fill="#222">140</text>
<line x1="438.04" y1="245.40" x2="438.04" y2="247.40" stroke="#555" stroke-width="1"/>
<text transform="translate(438.04,252.70) scale(1.0,1.12)" font-size="7.3" text-anchor="middle" fill="#222">160</text>
<line x1="517.60" y1="245.40" x2="517.60" y2="247.40" stroke="#555" stroke-width="1"/>
<text transform="translate(517.60,252.70) scale(1.0,1.12)" font-size="7.3" text-anchor="middle" fill="#222">180</text>
<line x1="597.16" y1="245.40" x2="597.16" y2="247.40" stroke="#555" stroke-width="1"/>
<text transform="translate(597.16,252.70) scale(1.0,1.12)" font-size="7.3" text-anchor="middle" fill="#222">200</text>
<line x1="676.72" y1="245.40" x2="676.72" y2="247.40" stroke="#555" stroke-width="1"/>
<text transform="translate(676.72,252.70) scale(1.0,1.12)" font-size="7.3" text-anchor="middle" fill="#222">220</text>
<path d="M139.30,245.00 L139.30,245.00 C144.74,244.97 151.91,245.09 159.70,244.90 C167.49,244.71 163.09,244.57 168.50,244.30 C173.91,244.03 174.85,244.17 180.00,243.90 C185.15,243.63 183.61,243.99 187.80,243.30 C191.99,242.61 191.97,242.23 195.70,241.30 C199.43,240.37 198.55,240.63 201.80,239.80 C205.05,238.97 204.09,238.65 207.90,238.20 C211.71,237.75 211.73,238.21 216.10,238.10 C220.47,237.99 220.75,238.55 224.30,237.80 C227.85,237.05 227.08,236.79 229.40,235.30 C231.72,233.81 231.75,233.16 233.00,232.20 C234.25,231.24 232.71,232.45 234.10,231.70 C235.49,230.95 236.01,230.23 238.20,229.40 C240.39,228.57 240.14,228.60 242.30,228.60 C244.46,228.60 244.41,228.84 246.30,229.40 C248.19,229.96 247.75,229.95 249.40,230.70 C251.05,231.45 250.31,231.80 252.50,232.20 C254.69,232.60 254.88,232.52 257.60,232.20 C260.32,231.88 259.71,231.67 262.70,231.00 C265.69,230.33 266.08,230.13 268.80,229.70 C271.52,229.27 270.71,229.40 272.90,229.40 C275.09,229.40 274.81,229.35 277.00,229.70 C279.19,230.05 278.91,230.22 281.10,230.70 C283.29,231.18 282.48,231.23 285.20,231.50 C287.92,231.77 288.58,231.59 291.30,231.70 C294.02,231.81 293.32,231.77 295.40,231.90 C297.48,232.03 297.02,232.04 299.10,232.20 C301.18,232.36 300.75,232.23 303.20,232.50 C305.65,232.77 305.05,232.40 308.30,233.20 C311.55,234.00 311.59,234.41 315.40,235.50 C319.21,236.59 318.49,236.55 322.60,237.30 C326.71,238.05 327.25,237.74 330.80,238.30 C334.35,238.86 333.18,238.84 335.90,239.40 C338.62,239.96 337.75,240.13 341.00,240.40 C344.25,240.67 344.02,240.27 348.10,240.40 C352.18,240.53 353.02,240.66 356.30,240.90 C359.58,241.14 357.07,241.19 360.40,241.30 C363.73,241.41 365.01,240.98 368.80,241.30 C372.59,241.62 369.93,242.10 374.60,242.50 C379.27,242.90 381.63,242.53 386.30,242.80 C390.97,243.07 387.43,243.23 392.10,243.50 C396.77,243.77 399.91,243.53 403.80,243.80 C407.69,244.07 398.91,244.31 406.70,244.50 C414.49,244.69 425.59,244.37 433.00,244.50 C440.41,244.63 431.19,244.87 434.50,245.00 C437.81,245.13 442.49,245.00 445.40,245.00 L445.40,245.00 Z" fill="#87CEEB" stroke="none"/>
<path d="M139.30,245.00 L139.30,245.00 C144.74,244.97 151.91,245.09 159.70,244.90 C167.49,244.71 163.09,244.57 168.50,244.30 C173.91,244.03 174.85,244.17 180.00,243.90 C185.15,243.63 183.61,243.99 187.80,243.30 C191.99,242.61 191.97,242.23 195.70,241.30 C199.43,240.37 198.55,240.63 201.80,239.80 C205.05,238.97 204.09,238.65 207.90,238.20 C211.71,237.75 211.73,238.21 216.10,238.10 C220.47,237.99 220.75,238.55 224.30,237.80 C227.85,237.05 227.08,236.79 229.40,235.30 C231.72,233.81 231.75,233.16 233.00,232.20 C234.25,231.24 232.71,232.45 234.10,231.70 C235.49,230.95 236.01,230.23 238.20,229.40 C240.39,228.57 240.14,228.60 242.30,228.60 C244.46,228.60 244.41,228.84 246.30,229.40 C248.19,229.96 247.75,229.95 249.40,230.70 C251.05,231.45 250.31,231.80 252.50,232.20 C254.69,232.60 254.88,232.52 257.60,232.20 C260.32,231.88 259.71,231.67 262.70,231.00 C265.69,230.33 266.08,230.13 268.80,229.70 C271.52,229.27 270.71,229.40 272.90,229.40 C275.09,229.40 274.81,229.35 277.00,229.70 C279.19,230.05 278.91,230.22 281.10,230.70 C283.29,231.18 282.48,231.23 285.20,231.50 C287.92,231.77 288.58,231.59 291.30,231.70 C294.02,231.81 293.32,231.77 295.40,231.90 C297.48,232.03 297.02,232.04 299.10,232.20 C301.18,232.36 300.75,232.23 303.20,232.50 C305.65,232.77 305.05,232.40 308.30,233.20 C311.55,234.00 311.59,234.41 315.40,235.50 C319.21,236.59 318.49,236.55 322.60,237.30 C326.71,238.05 327.25,237.74 330.80,238.30 C334.35,238.86 333.18,238.84 335.90,239.40 C338.62,239.96 337.75,240.13 341.00,240.40 C344.25,240.67 344.02,240.27 348.10,240.40 C352.18,240.53 353.02,240.66 356.30,240.90 C359.58,241.14 357.07,241.19 360.40,241.30 C363.73,241.41 365.01,240.98 368.80,241.30 C372.59,241.62 369.93,242.10 374.60,242.50 C379.27,242.90 381.63,242.53 386.30,242.80 C390.97,243.07 387.43,243.23 392.10,243.50 C396.77,243.77 399.91,243.53 403.80,243.80 C407.69,244.07 398.91,244.31 406.70,244.50 C414.49,244.69 425.59,244.37 433.00,244.50 C440.41,244.63 431.19,244.87 434.50,245.00 C437.81,245.13 442.49,245.00 445.40,245.00 L445.40,245.00" fill="none" stroke="#2a2aff" stroke-width="1" stroke-linejoin="round"/>
<line x1="453.90" y1="244.90" x2="463.40" y2="244.90" stroke="#4040d8" stroke-width="1.1"/>
<line x1="486.00" y1="244.90" x2="494.00" y2="244.90" stroke="#4040d8" stroke-width="1.1"/>
<line x1="503.50" y1="244.90" x2="528.50" y2="244.90" stroke="#4040d8" stroke-width="1.1"/>
<line x1="118.80" y1="267.40" x2="552.30" y2="267.40" stroke="#707070" stroke-width="1.1"/>
<line x1="118.90" y1="267.40" x2="118.90" y2="269.40" stroke="#555" stroke-width="1"/>
<text transform="translate(118.90,274.80) scale(1.0,1.07)" font-size="7.8" text-anchor="middle" fill="#222">0.005</text>
<line x1="177.50" y1="267.40" x2="177.50" y2="269.40" stroke="#555" stroke-width="1"/>
<text transform="translate(177.50,274.80) scale(1.0,1.07)" font-size="7.8" text-anchor="middle" fill="#222">0.02</text>
<line x1="224.80" y1="267.40" x2="224.80" y2="269.40" stroke="#555" stroke-width="1"/>
<text transform="translate(224.80,274.80) scale(1.0,1.07)" font-size="7.8" text-anchor="middle" fill="#222">0.06</text>
<line x1="281.70" y1="267.40" x2="281.70" y2="269.40" stroke="#555" stroke-width="1"/>
<text transform="translate(281.70,274.80) scale(1.0,1.07)" font-size="7.8" text-anchor="middle" fill="#222">0.2</text>
<line x1="339.50" y1="267.40" x2="339.50" y2="269.40" stroke="#555" stroke-width="1"/>
<text transform="translate(339.50,274.80) scale(1.0,1.07)" font-size="7.8" text-anchor="middle" fill="#222">0.5</text>
<line x1="396.40" y1="267.40" x2="396.40" y2="269.40" stroke="#555" stroke-width="1"/>
<text transform="translate(396.40,274.80) scale(1.0,1.07)" font-size="7.8" text-anchor="middle" fill="#222">0.8</text>
<line x1="453.60" y1="267.40" x2="453.60" y2="269.40" stroke="#555" stroke-width="1"/>
<text transform="translate(453.60,274.80) scale(1.0,1.07)" font-size="7.8" text-anchor="middle" fill="#222">0.94</text>
<line x1="501.30" y1="267.40" x2="501.30" y2="269.40" stroke="#555" stroke-width="1"/>
<text transform="translate(501.30,274.80) scale(1.0,1.07)" font-size="7.8" text-anchor="middle" fill="#222">0.98</text>
<line x1="552.30" y1="267.40" x2="552.30" y2="269.40" stroke="#555" stroke-width="1"/>
<text transform="translate(552.30,274.80) scale(1.0,1.07)" font-size="7.8" text-anchor="middle" fill="#222">0.994</text>
</svg>
</body></html>
